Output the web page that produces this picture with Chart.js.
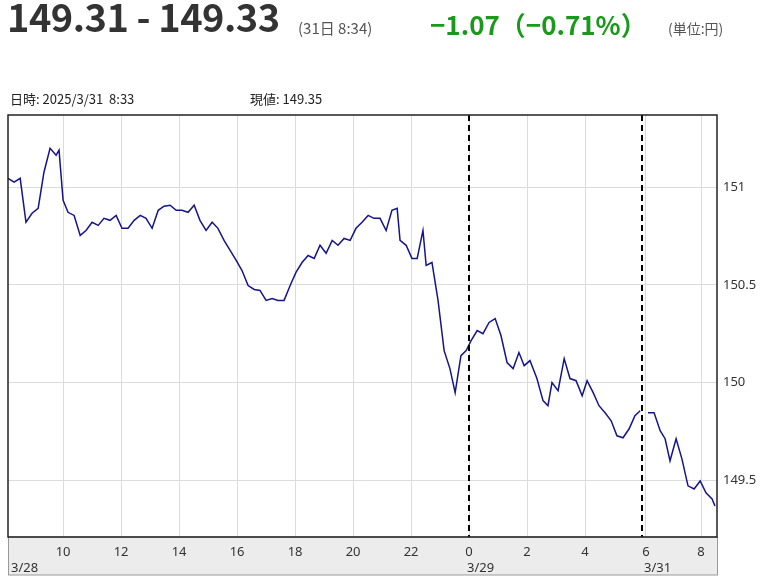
<!DOCTYPE html>
<html lang="ja">
<head>
    <meta charset="UTF-8">
    <title>USD/JPY</title>
    <script src="https://cdn.jsdelivr.net/npm/chart.js"></script>
    <style>
        body { margin: 0; font-family: "Noto Sans CJK JP", "Noto Sans", sans-serif; color: #333; background: #fff; }
        #wrap { position: relative; width: 781px; height: 585px; }
        canvas { position: absolute; left: 0; top: 0; }
        .t { position: absolute; white-space: nowrap; }
        #price { left: 7px; top: -12px; font-size: 38px; font-weight: bold; color: #333; letter-spacing: -0.5px; }
        #when { left: 298px; top: 17px; font-size: 15px; color: #555; }
        #chg { left: 430px; top: 5px; font-size: 26px; font-weight: bold; color: #1a9a1a; }
        #unit { left: 668px; top: 18px; font-size: 14px; color: #555; }
        .info { top: 89px; font-size: 13px; color: #222; }
    </style>
</head>
<body>
<div id="wrap">
    <canvas id="fx" width="781" height="585"></canvas>
    <div class="t" id="price">149.31 - 149.33</div>
    <div class="t" id="when">(31日 8:34)</div>
    <div class="t" id="chg">−1.07（−0.71%）</div>
    <div class="t" id="unit">(単位:円)</div>
    <div class="t info" style="left:10px">日時: 2025/3/31&nbsp;&nbsp;8:33</div>
    <div class="t info" style="left:250px">現値: 149.35</div>
</div>
<script>
// hours counted from 3/28 0:00 (weekend removed after 3/29 6:00)
const hours = [8.10, 8.31, 8.52, 8.72, 8.93, 9.14, 9.34, 9.55, 9.76, 9.86, 10.0, 10.17, 10.38, 10.59, 10.79, 11.0, 11.21, 11.41, 11.62, 11.83,
    12.03, 12.24, 12.45, 12.66, 12.86, 13.07, 13.28, 13.48, 13.69, 13.90, 14.10, 14.31, 14.52, 14.72, 14.93, 15.14, 15.34, 15.55, 15.76, 15.97,
    16.17, 16.38, 16.59, 16.79, 17.0, 17.21, 17.41, 17.62, 17.83, 18.03, 18.24, 18.45, 18.66, 18.86, 19.07, 19.28, 19.48, 19.69, 19.90, 20.10,
    20.31, 20.52, 20.72, 20.93, 21.14, 21.34, 21.52, 21.62, 21.83, 22.03, 22.21, 22.41, 22.52, 22.72, 22.93, 23.14, 23.34, 23.52, 23.72, 23.90,
    24.07, 24.28, 24.48, 24.69, 24.90, 25.10, 25.31, 25.52, 25.72, 25.90, 26.10, 26.34, 26.55, 26.72, 26.86, 27.07, 27.28, 27.48, 27.69, 27.90,
    28.07, 28.28, 28.48, 28.69, 28.90, 29.10, 29.31, 29.52, 29.72, 29.90, 29.95,
    30.17, 30.38, 30.59, 30.76, 30.93, 31.14, 31.34, 31.55, 31.76, 31.97, 32.17, 32.38, 32.48];
const rates = [151.046, 151.026, 151.046, 150.821, 150.867, 150.892, 151.077, 151.200, 151.164, 151.190, 150.933, 150.872, 150.856, 150.754, 150.779, 150.821, 150.805, 150.841, 150.831, 150.856,
    150.790, 150.790, 150.831, 150.856, 150.841, 150.790, 150.882, 150.903, 150.908, 150.882, 150.882, 150.872, 150.908, 150.831, 150.779, 150.821, 150.790, 150.728, 150.677, 150.626,
    150.574, 150.497, 150.477, 150.472, 150.421, 150.431, 150.421, 150.421, 150.497, 150.564, 150.615, 150.651, 150.636, 150.703, 150.662, 150.728, 150.703, 150.738, 150.728, 150.790,
    150.821, 150.856, 150.841, 150.841, 150.779, 150.882, 150.892, 150.728, 150.703, 150.636, 150.636, 150.779, 150.600, 150.615, 150.421, 150.164, 150.072, 149.949, 150.138, 150.164,
    150.215, 150.267, 150.251, 150.308, 150.328, 150.241, 150.103, 150.072, 150.154, 150.087, 150.113, 150.021, 149.908, 149.882, 150.0, 149.959, 150.123, 150.021, 150.010, 149.933,
    150.010, 149.949, 149.882, 149.846, 149.805, 149.728, 149.718, 149.764, 149.831, 149.856, null,
    149.846, 149.846, 149.754, 149.713, 149.600, 149.713, 149.610, 149.472, 149.456, 149.497, 149.436, 149.405, 149.369];
const hourTicks = [10, 12, 14, 16, 18, 20, 22, 24, 26, 28, 30.1, 32];
const yTicks = [149.5, 150, 150.5, 151];
const dayLabels = [['3/28', 8.1], ['3/29', 24], ['3/31', 30.1]];
const breaks = [24, 29.95];

const frame = {
    id: 'frame',
    beforeDraw(chart) {
        const {ctx, chartArea: a} = chart;
        ctx.save();
        ctx.fillStyle = '#ececec';
        ctx.fillRect(a.left, a.bottom, a.right - a.left, 38);
        ctx.strokeStyle = '#999';
        ctx.lineWidth = 1;
        ctx.strokeRect(a.left + 0.5, a.bottom, a.right - a.left, 38);
        ctx.restore();
    },
    afterDatasetsDraw(chart) {
        const {ctx, chartArea: a, scales} = chart;
        ctx.save();
        ctx.strokeStyle = '#000';
        ctx.lineWidth = 2;
        ctx.setLineDash([6, 4]);
        breaks.forEach(b => {
            const x = Math.round(scales.x.getPixelForValue(b));
            ctx.beginPath(); ctx.moveTo(x, a.top); ctx.lineTo(x, a.bottom); ctx.stroke();
        });
        ctx.setLineDash([]);
        ctx.lineWidth = 1.5;
        ctx.strokeStyle = '#222';
        ctx.strokeRect(a.left, a.top, a.right - a.left, a.bottom - a.top);
        ctx.fillStyle = '#333';
        ctx.font = '13px "Noto Sans", sans-serif';
        ctx.textBaseline = 'alphabetic';
        dayLabels.forEach(([s, t]) => {
            const x = scales.x.getPixelForValue(t);
            ctx.fillText(s, t < 9 ? a.left + 3 : x - 2, a.bottom + 35);
        });
        ctx.restore();
    }
};

new Chart(document.getElementById('fx'), {
    type: 'line',
    data: {
        labels: hours,
        datasets: [{
            data: hours.map((h, i) => ({x: h, y: rates[i]})),
            borderColor: '#14148c',
            borderWidth: 1.5,
            pointRadius: 0,
            tension: 0,
            spanGaps: false
        }]
    },
    options: {
        responsive: false,
        animation: false,
        layout: {padding: {left: 8, top: 115, right: 0, bottom: 10}},
        plugins: {legend: {display: false}, tooltip: {enabled: false}},
        scales: {
            x: {
                type: 'linear', min: 8.1, max: 32.55,
                afterBuildTicks: s => { s.ticks = hourTicks.map(v => ({value: v})); },
                afterFit: s => { s.height = 38; },
                grid: {color: '#dcdcdc', drawTicks: false},
                border: {display: false},
                ticks: {
                    autoSkip: false, maxRotation: 0, padding: 7,
                    color: '#333', font: {family: 'Noto Sans', size: 13},
                    callback: v => v < 24 ? v : (v < 30 ? v - 24 : Math.round(v - 24))
                }
            },
            y: {
                position: 'right', min: 149.21, max: 151.37,
                afterBuildTicks: s => { s.ticks = yTicks.map(v => ({value: v})); },
                afterFit: s => { s.width = 64; },
                grid: {color: '#dcdcdc', drawTicks: false},
                border: {display: false},
                ticks: {padding: 6, color: '#333', font: {family: 'Noto Sans', size: 13}, callback: v => String(v)}
            }
        }
    },
    plugins: [frame]
});
</script>
</body>
</html>
